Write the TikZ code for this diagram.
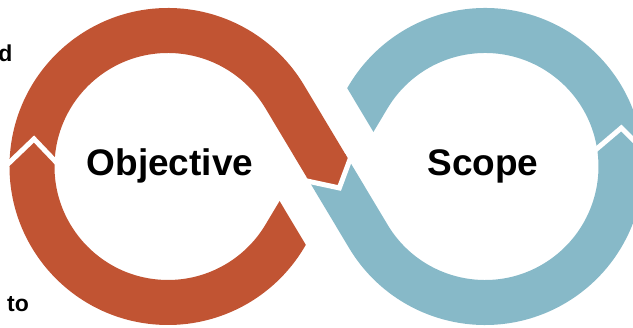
\documentclass[tikz,border=0pt]{standalone}
\usepackage{fontspec}
\setmainfont{Liberation Sans}
\usetikzlibrary{calc}
\definecolor{rust}{HTML}{C15433}
\definecolor{ringblue}{HTML}{87B9C8}
\begin{document}
\begin{tikzpicture}[x=1pt,y=1pt,
  band/.style={line width=45pt, line cap=butt},
  gapline/.style={white, line width=5pt, line join=miter, shorten <=-6pt, shorten >=-6pt},
  lbl/.style={font=\bfseries\fontsize{37}{40}\selectfont, inner sep=0pt, anchor=base},
  cutlbl/.style={font=\bfseries\fontsize{23}{25}\selectfont, inner sep=0pt}]
\useasboundingbox (0,0) rectangle (633,328);
\coordinate (C1) at (168,161.5);
\coordinate (C2) at (485,161.5);
\coordinate (M) at (326.5,161.5);
% blue lower piece (starts at crossing)
\draw[band, ringblue] (M) -- ($(C2)+(210.9:136)$) arc[start angle=210.9, end angle=369.7, radius=136];
% blue upper piece (cut before crossing)
\begin{scope}
  \clip[shift={(M)}, rotate=-59.1] (-600,58) rectangle (600,600);
  \draw[band, ringblue] ($(C2)+(8.7:136)$) arc[start angle=8.7, end angle=149.1, radius=136] -- (M);
\end{scope}
% red lower piece (cut before crossing)
\begin{scope}
  \clip[shift={(M)}, rotate=-59.1] (-600,-58) rectangle (600,-600);
  \draw[band, rust] ($(C1)+(177:136)$) arc[start angle=177, end angle=329.1, radius=136] -- (M);
\end{scope}
% red upper piece (ends at crossing)
\draw[band, rust] ($(C1)+(178:136)$) arc[start angle=178, end angle=30.9, radius=136] -- (M);
% arrow tip at crossing
\begin{scope}[shift={(M)}, rotate=-59.1]
  \fill[rust] (-1,-22.5) -- (4,-22.5) -- (25,0) -- (7,22.5) -- (-1,22.5) -- cycle;
  \draw[gapline] (4,-22.5) -- (25,0) -- (7,22.5);
\end{scope}
% chevron gaps on the rings
\draw[gapline] ($(C1)+(-158,4.5)$) -- ($(C1)+(-134,27.5)$) -- ($(C1)+(-113,5.5)$);
\draw[gapline] ($(C2)+(111,17)$) -- ($(C2)+(136.3,38.5)$) -- ($(C2)+(157.5,17.5)$);
% labels
\node[lbl] (obj) at (170,152) {Objective};
\node[lbl] (scope) at (483,152) {Scope};
\node[cutlbl, anchor=base east] (d) at (12.5,266) {d};
\node[cutlbl, anchor=base west] (to) at (7,16) {to};
\end{tikzpicture}
\end{document}
